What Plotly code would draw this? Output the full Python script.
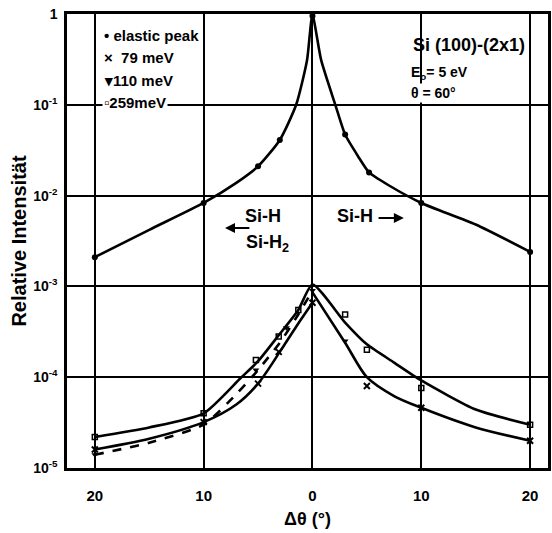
import plotly.graph_objects as go

FONT = "Liberation Sans"

# ---------------- data ----------------
# x = Δθ in degrees (negative = left half of the plot), y = relative intensity
elastic_line_x = [-20, -15, -10, -7, -5, -3, -1.5, -0.5, 0, 0.8, 2.1, 3, 4.2, 5.2, 7, 10, 15, 20]
elastic_line_y = [2.1e-3, 4.2e-3, 8.3e-3, 0.0138, 0.021, 0.041, 0.10, 0.31, 0.97,
                  0.31, 0.10, 0.047, 0.027, 0.018, 0.013, 8.3e-3, 4.8e-3, 2.4e-3]
elastic_pts_x = [-20, -10, -5, -3, 0, 3, 5.2, 10, 20]
elastic_pts_y = [2.1e-3, 8.3e-3, 0.021, 0.041, 0.95, 0.047, 0.018, 8.3e-3, 2.4e-3]

# 259 meV : upper solid curve on both sides
m259_line_x = [-20, -15, -10, -6.6, -5, -3.1, -1.3, 0, 3, 5, 7.5, 10, 15, 20]
m259_line_y = [2.2e-5, 2.8e-5, 4.0e-5, 9.8e-5, 1.5e-4, 2.9e-4, 5.5e-4, 1.05e-3,
               4.0e-4, 2.3e-4, 1.45e-4, 9.2e-5, 4.4e-5, 3.0e-5]
m259_pts_x = [-20, -10, -5.2, -3.1, -1.3, 3.0, 5.0, 10, 20]
m259_pts_y = [2.2e-5, 4.0e-5, 1.55e-4, 2.8e-4, 5.5e-4, 4.9e-4, 2.0e-4, 7.6e-5, 3.0e-5]

# 110 meV : dashed curve, left half only
m110_line_x = [-20, -15, -10, -7, -5, -3, -1.5, 0]
m110_line_y = [1.4e-5, 1.9e-5, 3.0e-5, 6.5e-5, 1.2e-4, 2.4e-4, 4.5e-4, 9.0e-4]
m110_pts_x = [-20, -5.2, -2.4, 0, 3.0]
m110_pts_y = [1.4e-5, 1.2e-4, 3.5e-4, 9.0e-4, 2.5e-4]

# 79 meV : lower solid curve (left branch, right branch)
m79_left_x = [-20, -15, -10, -7, -5, -3, -1.5, 0]
m79_left_y = [1.6e-5, 2.1e-5, 3.2e-5, 5.0e-5, 8.5e-5, 1.9e-4, 3.6e-4, 6.6e-4]
m79_right_x = [0, 3, 5, 7.5, 10, 15, 20]
m79_right_y = [8.6e-4, 2.4e-4, 1.0e-4, 6.2e-5, 4.6e-5, 2.8e-5, 2.0e-5]
m79_pts_x = [-20, -10, -5, -3.1, 0, 5.0, 10, 20]
m79_pts_y = [1.6e-5, 3.2e-5, 8.5e-5, 1.9e-4, 6.6e-4, 8.0e-5, 4.6e-5, 2.0e-5]

x_tickvals = [-20, -10, 0, 10, 20]
x_ticktext = ["20", "10", "0", "10", "20"]
y_tickvals = [1e-5, 1e-4, 1e-3, 1e-2, 1e-1, 1]
y_ticktext = ["10<sup>-5</sup>", "10<sup>-4</sup>", "10<sup>-3</sup>",
              "10<sup>-2</sup>", "10<sup>-1</sup>", "1"]

legend_labels = ["\u2022 elastic peak", "\u00d7  79 meV", "\u25be110 meV", "\u25ab259meV"]

# ---------------- figure ----------------
fig = go.Figure()
LW = 2.6

fig.add_trace(go.Scatter(x=elastic_line_x, y=elastic_line_y, mode="lines",
                         line=dict(color="black", width=LW, shape="spline", smoothing=0.6),
                         showlegend=False, hoverinfo="skip"))
fig.add_trace(go.Scatter(x=elastic_pts_x, y=elastic_pts_y, mode="markers", name="elastic peak",
                         marker=dict(symbol="circle", size=6, color="black"), showlegend=False))

fig.add_trace(go.Scatter(x=m259_line_x, y=m259_line_y, mode="lines",
                         line=dict(color="black", width=LW, shape="spline", smoothing=0.6),
                         showlegend=False, hoverinfo="skip"))
fig.add_trace(go.Scatter(x=m259_pts_x, y=m259_pts_y, mode="markers", name="259 meV",
                         marker=dict(symbol="square-open", size=5, color="black",
                                     line=dict(width=1.5)), showlegend=False))

fig.add_trace(go.Scatter(x=m110_line_x, y=m110_line_y, mode="lines",
                         line=dict(color="black", width=LW, dash="dash", shape="spline", smoothing=0.6),
                         showlegend=False, hoverinfo="skip"))
fig.add_trace(go.Scatter(x=m110_pts_x, y=m110_pts_y, mode="markers", name="110 meV",
                         marker=dict(symbol="triangle-down", size=6, color="black"), showlegend=False))

fig.add_trace(go.Scatter(x=m79_left_x + [None] + m79_right_x,
                         y=m79_left_y + [None] + m79_right_y, mode="lines",
                         line=dict(color="black", width=LW, shape="spline", smoothing=0.8),
                         connectgaps=False, showlegend=False, hoverinfo="skip"))
fig.add_trace(go.Scatter(x=m79_pts_x, y=m79_pts_y, mode="markers", name="79 meV",
                         marker=dict(symbol="x-thin", size=6, color="black",
                                     line=dict(width=2, color="black")), showlegend=False))

# px -> data helpers for annotation placement
def xd(px):
    return (px - 314) / 10.95

def yd(py):
    return -(py - 14) / 90.8

ann = []
# legend text block
for i, t in enumerate(legend_labels):
    ann.append(dict(x=xd(102), y=yd(35 + 22.5 * i), xref="x", yref="y", text="<b>%s</b>" % t,
                    showarrow=False, xanchor="left", yanchor="middle",
                    font=dict(family=FONT, size=15, color="black"), bgcolor="white"))

ann += [
    dict(x=xd(472), y=yd(45), text="<b>Si (100)-(2x1)</b>", showarrow=False,
         font=dict(family=FONT, size=18, color="black"), xanchor="center", yanchor="middle"),
    dict(x=xd(411), y=yd(73), text="<b>E<sub>o</sub>= 5 eV</b>", showarrow=False,
         font=dict(family=FONT, size=14, color="black"), xanchor="left", yanchor="middle"),
    dict(x=xd(411), y=yd(93), text="<b>\u03b8 = 60\u00b0</b>", showarrow=False,
         font=dict(family=FONT, size=14, color="black"), xanchor="left", yanchor="middle",
         bgcolor="white"),
    dict(x=xd(264), y=yd(216), text="<b>Si-H</b>", showarrow=False,
         font=dict(family=FONT, size=18, color="black"), xanchor="center", yanchor="middle"),
    dict(x=xd(269), y=yd(243), text="<b>Si-H<sub>2</sub></b>", showarrow=False,
         font=dict(family=FONT, size=18, color="black"), xanchor="center", yanchor="middle"),
    dict(x=xd(357), y=yd(216), text="<b>Si-H</b>", showarrow=False,
         font=dict(family=FONT, size=18, color="black"), xanchor="center", yanchor="middle"),
    # arrows
    dict(x=xd(226), y=yd(228), ax=xd(252), ay=yd(228), axref="x", ayref="y", text="",
         showarrow=True, arrowhead=2, arrowsize=1, arrowwidth=2, arrowcolor="black"),
    dict(x=xd(406), y=yd(218), ax=xd(379), ay=yd(218), axref="x", ayref="y", text="",
         showarrow=True, arrowhead=2, arrowsize=1, arrowwidth=2, arrowcolor="black"),
]
fig.update_layout(annotations=ann)

fig.update_xaxes(range=[xd(67), xd(551)], tickvals=x_tickvals, ticktext=x_ticktext,
                 showgrid=True, gridcolor="black", gridwidth=2, zeroline=False,
                 showline=True, linecolor="black", linewidth=2.5, mirror=True, ticks="",
                 ticklabelstandoff=12,
                 tickfont=dict(family=FONT, size=15, color="black", weight="bold"),
                 title=dict(text="<b>\u0394\u03b8 (\u00b0)</b>", standoff=10,
                            font=dict(family=FONT, size=18, color="black")))
fig.update_yaxes(type="log", range=[-5, 0], tickvals=y_tickvals, ticktext=y_ticktext,
                 showgrid=True, gridcolor="black", gridwidth=2, zeroline=False,
                 showline=True, linecolor="black", linewidth=2.5, mirror=True, ticks="",
                 ticklabelstandoff=4,
                 tickfont=dict(family=FONT, size=14, color="black", weight="bold"),
                 title=dict(text="<b>Relative Intensit\u00e4t</b>", standoff=2,
                            font=dict(family=FONT, size=20, color="black")))

fig.update_layout(width=552, height=533, margin=dict(l=67, r=1, t=14, b=65),
                  paper_bgcolor="white", plot_bgcolor="white", showlegend=False)

fig.write_html("out.html")
